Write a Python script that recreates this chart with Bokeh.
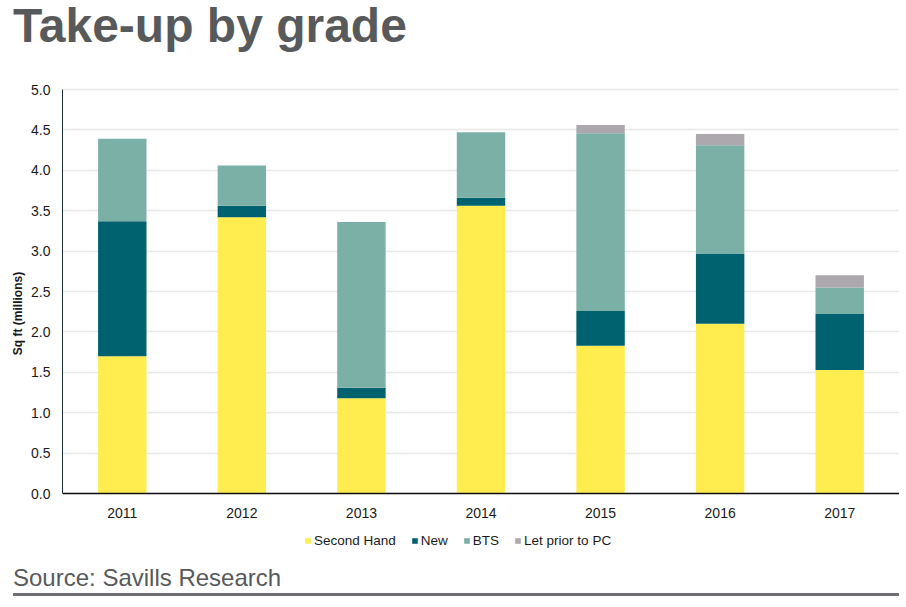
from bokeh.plotting import figure
from bokeh.layouts import column
from bokeh.models import (ColumnDataSource, Range1d, Legend, LegendItem, Div,
                          NumeralTickFormatter, FixedTicker)
from bokeh.embed import file_html
from bokeh.resources import INLINE

years = ["2011", "2012", "2013", "2014", "2015", "2016", "2017"]
second_hand = [1.70, 3.42, 1.18, 3.56, 1.83, 2.10, 1.53]
new = [1.67, 0.14, 0.13, 0.10, 0.43, 0.87, 0.69]
bts = [1.02, 0.50, 2.05, 0.81, 2.20, 1.34, 0.33]
let_prior = [0.0, 0.0, 0.0, 0.0, 0.10, 0.14, 0.15]
series = ["Second Hand", "New", "BTS", "Let prior to PC"]
colors = ["#FFED50", "#00626E", "#7AB0A6", "#ACA8AE"]
y_ticks = [0, 0.5, 1.0, 1.5, 2.0, 2.5, 3.0, 3.5, 4.0, 4.5, 5.0]
title_text = "Take-up by grade"
source_text = "Source: Savills Research"

SANS = "Liberation Sans"
W = 899
FIG_H = 498
PX_PER_UNIT = 80.8          # vertical scale of the value axis
TOP_PAD_PX, BOTTOM_PAD_PX = 25, 69   # room above 5.0 and below 0.0 inside the frame

# ---- title ----
title_div = Div(
    text=('<div style="font-family:\'Liberation Sans\',Arial,sans-serif;font-size:48px;'
          'font-weight:bold;color:#58595B;line-height:48px;margin:0;'
          'padding:2px 0 0 13px;white-space:nowrap;">' + title_text + '</div>'),
    width=W, height=64, margin=0)

# ---- main chart ----
src = ColumnDataSource(dict(year=years, sh=second_hand, nw=new, bts=bts, lp=let_prior))

y_range = Range1d(-BOTTOM_PAD_PX / PX_PER_UNIT, 5 + TOP_PAD_PX / PX_PER_UNIT)
p = figure(width=W, height=FIG_H, x_range=years, y_range=y_range,
           output_backend="svg", toolbar_location=None, margin=0,
           min_border_left=62, min_border_right=0, min_border_top=0, min_border_bottom=0)
p.outline_line_color = None

renderers = p.vbar_stack(["sh", "nw", "bts", "lp"], x="year", width=0.405, source=src,
                         fill_color=colors, line_color=None)

p.yaxis.ticker = FixedTicker(ticks=y_ticks)
p.yaxis.bounds = (0, 5)
p.yaxis.formatter = NumeralTickFormatter(format="0.0")
p.yaxis.major_tick_line_color = None
p.yaxis.minor_tick_line_color = None
p.yaxis.major_tick_out = 0
p.yaxis.minor_tick_out = 0
p.yaxis.axis_line_color = "#1E2F3E"
p.yaxis.axis_line_width = 1
p.yaxis.major_label_text_font = SANS
p.yaxis.major_label_text_font_size = "14px"
p.yaxis.major_label_text_color = "#1a1a1a"
p.yaxis.major_label_standoff = 12
p.yaxis.axis_label = "Sq ft (millions)"
p.yaxis.axis_label_text_font = SANS
p.yaxis.axis_label_text_font_size = "12px"
p.yaxis.axis_label_text_font_style = "bold"
p.yaxis.axis_label_text_color = "#1a1a1a"
p.yaxis.axis_label_standoff = 3

p.xaxis.fixed_location = 0
p.xaxis.major_tick_line_color = None
p.xaxis.minor_tick_line_color = None
p.xaxis.major_tick_out = 0
p.xaxis.minor_tick_out = 0
p.xaxis.axis_line_color = "#111111"
p.xaxis.axis_line_width = 1.5
p.xaxis.major_label_text_font = SANS
p.xaxis.major_label_text_font_size = "14px"
p.xaxis.major_label_text_color = "#1a1a1a"
p.xaxis.major_label_standoff = 14

p.xgrid.grid_line_color = None
p.ygrid.grid_line_color = "#E8E8E8"
p.ygrid.grid_line_width = 1.5

items = [LegendItem(label=s, renderers=[r]) for s, r in zip(series, renderers)]
legend = Legend(items=items, orientation="horizontal", location=(242, 14),
                glyph_width=7, glyph_height=7, label_standoff=3, spacing=15,
                padding=0, margin=0, border_line_color=None, background_fill_alpha=0,
                label_text_font=SANS, label_text_font_size="13.5px",
                label_text_color="#1a1a1a")
p.add_layout(legend, "center")

# ---- source ----
source_div = Div(
    text=('<div style="font-family:\'Liberation Sans\',Arial,sans-serif;font-size:24px;'
          'color:#58595B;line-height:24px;margin:0 0 0 13px;padding:4.4px 0 2.6px 0;'
          'width:886px;border-bottom:3.5px solid #6D6E71;white-space:nowrap;">'
          + source_text + '</div>'),
    width=W, height=37, margin=0)

layout = column(title_div, p, source_div, spacing=0)
open("out.html", "w").write(file_html(layout, INLINE))
